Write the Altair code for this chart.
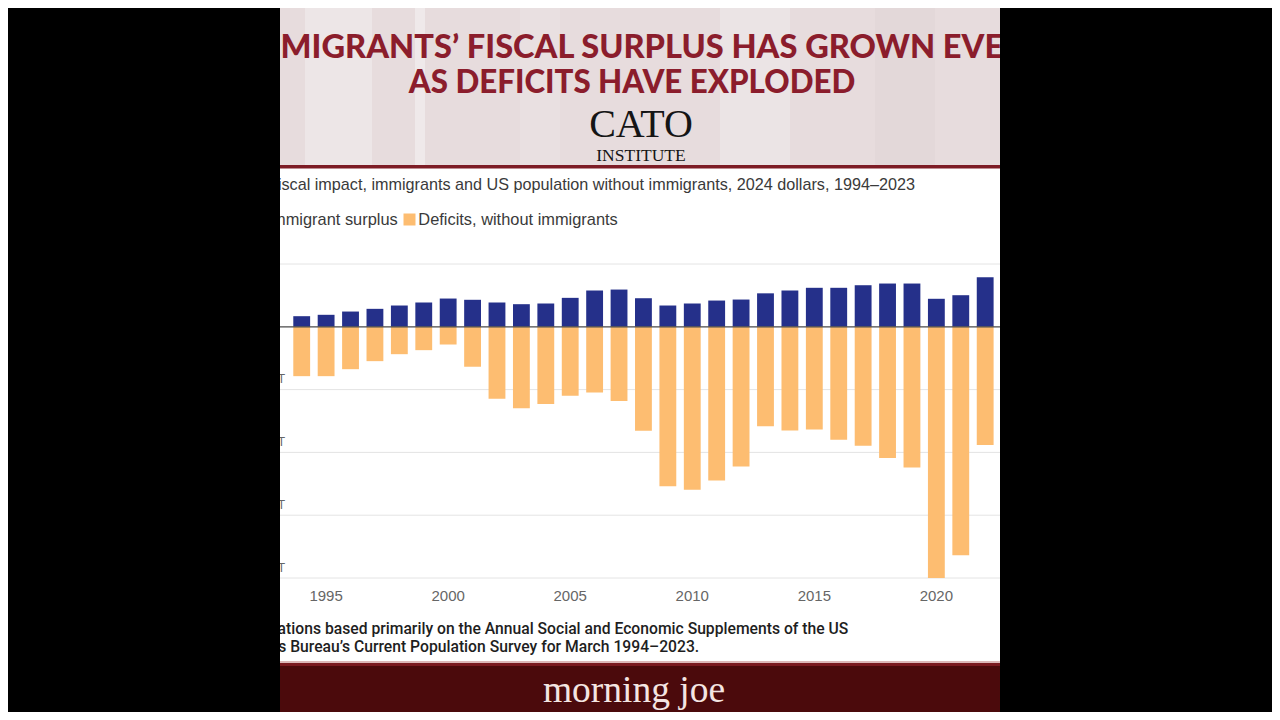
import altair as alt
import pandas as pd

# ---------------- data (billions of 2024 dollars) ----------------
years = list(range(1994, 2024))
surplus = [169, 191, 243, 286, 339, 387, 450, 430, 387, 360,
           371, 461, 578, 593, 455, 339, 371, 418, 434, 533,
           578, 621, 621, 662, 689, 689, 446, 503, 789, 880]
deficits = [-786, -786, -675, -547, -436, -372, -282, -636, -1146, -1295,
            -1231, -1098, -1045, -1183, -1655, -2541, -2594, -2446, -2223, -1584,
            -1650, -1634, -1798, -1893, -2090, -2239, -4000, -3639, -1884, -2700]
series_names = ["Immigrant surplus", "Deficits, without immigrants"]
series_colors = ["#25308a", "#fdbd71"]
tick_years = [1995, 2000, 2005, 2010, 2015, 2020]
y_ticks = [-4000, -3000, -2000, -1000, 0, 1000]
grid_vals = [-4000, -3000, -2000, -1000, 1000]

title_1 = "IMMIGRANTS\u2019 FISCAL SURPLUS HAS GROWN EVEN"
title_2 = "AS DEFICITS HAVE EXPLODED"
subtitle = "Fiscal impact, immigrants and US population without immigrants, 2024 dollars, 1994\u20132023"
source_1 = "Calculations based primarily on the Annual Social and Economic Supplements of the US"
source_2 = "Census Bureau\u2019s Current Population Survey for March 1994\u20132023."

df = pd.DataFrame({
    "year": years + years,
    "value": surplus + deficits,
    "series": [series_names[0]] * len(years) + [series_names[1]] * len(years),
})
grid_df = pd.DataFrame({"value": grid_vals})
zero_df = pd.DataFrame({"value": [0]})
one = pd.DataFrame({"a": [0]})

# plot origin on the page is (280, 264); helpers convert page coords
PX, PY = 280, 264
W, H = 720, 314
PAD = {"left": 272, "top": 256, "right": 272, "bottom": 134}


def rx(x):
    return x - PX


def ry(y):
    return y - PY


def rect(x1, x2, y1, y2, color):
    return alt.Chart(one).mark_rect(color=color).encode(
        x=alt.value(rx(x1)), x2=alt.value(rx(x2)),
        y=alt.value(ry(y1)), y2=alt.value(ry(y2)))


def txt(s, x, y, size, color, font, weight=400, align="left"):
    return alt.Chart(one).mark_text(
        text=s, align=align, baseline="middle", fontSize=size, font=font,
        fontWeight=weight, color=color).encode(x=alt.value(rx(x)), y=alt.value(ry(y)))


yscale = alt.Scale(domain=[-4000, 1000], nice=False)
yaxis = alt.Axis(values=y_ticks, grid=False, domain=False, ticks=False, tickSize=0,
                 labelAlign="left", labelPadding=23, labelBaseline="bottom", labelOffset=-4,
                 labelFontSize=12, labelColor="#666", labelFont="Liberation Sans",
                 labelExpr="datum.value == 0 ? '$0' : (datum.value < 0 ? '\u2212$' : '$') + abs(datum.value) / 1000 + 'T'",
                 title=None)
xscale = alt.Scale(range=[9.5, 741.8], paddingInner=0.31, paddingOuter=0.155)
xaxis = alt.Axis(values=tick_years, labelAngle=0, domain=False, ticks=False,
                 labelPadding=10, labelFontSize=15, labelColor="#666",
                 labelFont="Liberation Sans", title=None)

# ---------------- decorations behind ----------------
banner = rect(280, 1000, 0, 165, "#e7dcdd")
stripes = [
    rect(305, 372, 0, 165, "#ede6e7"),
    rect(415, 425, 0, 165, "#efe9ea"),
    rect(520, 560, 0, 165, "#e9e0e1"),
    rect(720, 790, 0, 165, "#ebe4e5"),
    rect(875, 935, 0, 165, "#e3d8d9"),
]
banner_line = rect(280, 1000, 165, 168.5, "#7d1c25")

grid = alt.Chart(grid_df).mark_rule(color="#e4e4e4", strokeWidth=1).encode(
    y=alt.Y("value:Q", scale=yscale, axis=yaxis))

bars = alt.Chart(df).mark_bar().encode(
    x=alt.X("year:O", scale=xscale, axis=xaxis),
    y=alt.Y("value:Q", scale=yscale, axis=yaxis),
    color=alt.Color("series:N", scale=alt.Scale(domain=series_names, range=series_colors), legend=None),
)

zero = alt.Chart(zero_df).mark_rule(color="#4a4a4a", strokeWidth=1.2).encode(
    y=alt.Y("value:Q", scale=yscale, axis=yaxis))

# ---------------- texts ----------------
t1 = txt(title_1, 634, 47.5, 32.6, "#8b1d2c", "Lato", 900, "center")
t2 = txt(title_2, 632, 83.5, 31.3, "#8b1d2c", "Lato", 900, "center")
cato = txt("CATO", 641, 125, 40, "#151515", "Liberation Serif", 400, "center")
inst = txt("INSTITUTE", 641, 156, 17.5, "#151515", "Liberation Serif", 400, "center")
sub = txt(subtitle, 268, 185, 16.2, "#3a3a3a", "Liberation Sans")

leg_sq1 = alt.Chart(pd.DataFrame({"series": [series_names[0]]})).mark_square(size=144, opacity=1).encode(
    x=alt.value(rx(259)), y=alt.value(ry(219.5)),
    color=alt.Color("series:N", scale=alt.Scale(domain=series_names, range=series_colors), legend=None))
leg_sq2 = alt.Chart(pd.DataFrame({"series": [series_names[1]]})).mark_square(size=144, opacity=1).encode(
    x=alt.value(rx(409.5)), y=alt.value(ry(219.5)),
    color=alt.Color("series:N", scale=alt.Scale(domain=series_names, range=series_colors), legend=None))
leg_t1 = txt(series_names[0], 267.5, 220, 16.4, "#3a3a3a", "Liberation Sans")
leg_t2 = txt(series_names[1], 418.3, 220, 16.4, "#3a3a3a", "Liberation Sans")

src1 = txt(source_1, 234, 628.5, 15.7, "#1e1e1e", "Roboto", 500)
src2 = txt(source_2, 234, 647, 15.7, "#1e1e1e", "Roboto", 500)

# ---------------- bottom bar ----------------
line_a = rect(280, 1000, 661, 663, "#dcb9b9")
line_b = rect(280, 1000, 663, 666, "#7a1a20")
footer = rect(280, 1000, 666, 717, "#4b0a0c")
mj = txt("morning joe", 634, 691, 37.5, "#f4e5e2", "Liberation Serif", 400, "center")

# ---------------- black masks (cropped video frame) ----------------
mask_l = rect(8, 280, 0, 720, "#000000")
mask_r = rect(1000, 1272, 0, 720, "#000000")

chart = alt.layer(
    banner, *stripes, banner_line, grid, bars, zero,
    t1, t2, cato, inst, sub, leg_sq1, leg_sq2, leg_t1, leg_t2,
    src1, src2, line_a, line_b, footer, mj, mask_l, mask_r,
).properties(
    width=W, height=H,
    autosize=alt.AutoSizeParams(type="none"),
    padding=PAD,
).configure(background="white").configure_view(strokeWidth=0)

chart.save("out.html", embed_options={"renderer": "svg", "actions": False})
